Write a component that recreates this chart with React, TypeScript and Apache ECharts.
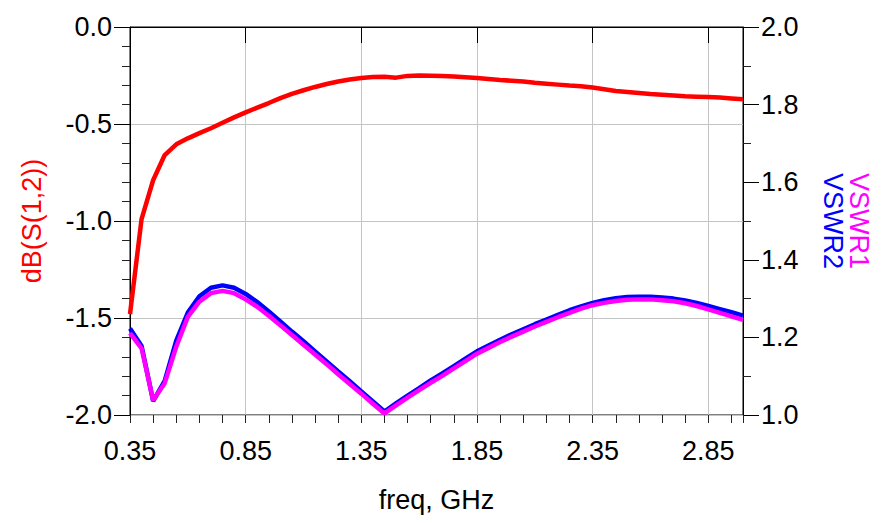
import React, { useEffect, useRef } from "react";
import * as echarts from "echarts";

const freq = [
  0.35, 0.4, 0.45, 0.5, 0.55, 0.6, 0.65, 0.7, 0.75, 0.8, 0.85, 0.9, 0.95, 1.0,
  1.05, 1.1, 1.15, 1.2, 1.25, 1.3, 1.35, 1.4, 1.45, 1.5, 1.55, 1.6, 1.65, 1.7,
  1.75, 1.8, 1.85, 1.9, 1.95, 2.0, 2.05, 2.1, 2.15, 2.2, 2.25, 2.3, 2.35, 2.4,
  2.45, 2.5, 2.55, 2.6, 2.65, 2.7, 2.75, 2.8, 2.85, 2.9, 2.95, 3.0,
];

const dbS12 = [
  -1.48, -0.99, -0.79, -0.66, -0.605, -0.574, -0.547, -0.522, -0.494, -0.466,
  -0.44, -0.416, -0.392, -0.367, -0.345, -0.326, -0.309, -0.294, -0.281, -0.271,
  -0.263, -0.258, -0.256, -0.261, -0.252, -0.25, -0.251, -0.252, -0.255, -0.259,
  -0.263, -0.268, -0.273, -0.277, -0.281, -0.287, -0.292, -0.297, -0.302, -0.305,
  -0.312, -0.321, -0.33, -0.335, -0.34, -0.345, -0.349, -0.353, -0.357, -0.359,
  -0.361, -0.364, -0.368, -0.373,
];

const vswr1 = [
  1.211, 1.172, 1.038, 1.082, 1.176, 1.253, 1.292, 1.314, 1.32, 1.314, 1.298,
  1.279, 1.256, 1.231, 1.206, 1.181, 1.156, 1.131, 1.105, 1.08, 1.055, 1.029,
  1.004, 1.025, 1.045, 1.064, 1.083, 1.101, 1.12, 1.139, 1.158, 1.173, 1.188,
  1.202, 1.215, 1.228, 1.24, 1.252, 1.263, 1.274, 1.283, 1.289, 1.294, 1.297,
  1.298, 1.298, 1.296, 1.293, 1.288, 1.281, 1.272, 1.263, 1.254, 1.245,
];

const vswr2 = [
  1.223, 1.178, 1.036, 1.088, 1.192, 1.264, 1.306, 1.328, 1.334, 1.328, 1.312,
  1.291, 1.267, 1.241, 1.215, 1.19, 1.164, 1.138, 1.112, 1.087, 1.061, 1.035,
  1.009, 1.03, 1.05, 1.069, 1.089, 1.107, 1.126, 1.145, 1.164, 1.179, 1.194,
  1.208, 1.221, 1.234, 1.246, 1.258, 1.27, 1.28, 1.289, 1.296, 1.301, 1.304,
  1.305, 1.305, 1.303, 1.3, 1.295, 1.289, 1.281, 1.273, 1.265, 1.256,
];

const FONT = "'Liberation Sans', Arial, Helvetica, sans-serif";
const FS = 27;

export default function App() {
  const ref = useRef<HTMLDivElement>(null);
  useEffect(() => {
    if (!ref.current) return;
    const chart = echarts.init(ref.current, undefined, { renderer: "svg" });
    const pair = (ys: number[]) => freq.map((f, i) => [f, ys[i]]);
    const black = "#000";
    const grey = "#c4c4c4";
    chart.setOption({
      animation: false,
      backgroundColor: "#fff",
      textStyle: { fontFamily: FONT },
      grid: {
        left: 130,
        right: 144,
        top: 27,
        bottom: 108,
        show: true,
        borderColor: black,
        borderWidth: 1,
        backgroundColor: "transparent",
        containLabel: false,
      },
      xAxis: [
        {
          type: "value",
          position: "bottom",
          min: 0.35,
          max: 3.0,
          interval: 0.5,
          name: "freq, GHz",
          nameLocation: "middle",
          nameGap: 71,
          nameTextStyle: { color: black, fontSize: FS, fontFamily: FONT },
          axisLine: { show: true, lineStyle: { color: black, width: 1 } },
          axisTick: { show: true, length: 16, lineStyle: { color: black, width: 1 } },
          axisLabel: {
            color: black,
            fontSize: FS,
            fontFamily: FONT,
            margin: 22,
            showMaxLabel: false,
            formatter: (v: number) => v.toFixed(2),
          },
          splitLine: { show: true, lineStyle: { color: grey, width: 1 } },
        },
        {
          type: "value",
          position: "bottom",
          min: 0.35,
          max: 3.0,
          interval: 0.1,
          axisLine: { show: false },
          axisTick: { show: true, length: 8, lineStyle: { color: "#222", width: 1 } },
          axisLabel: { show: false },
          splitLine: { show: false },
        },
      ],
      yAxis: [
        {
          type: "value",
          position: "left",
          min: -2,
          max: 0,
          interval: 0.5,
          name: "dB(S(1,2))",
          nameLocation: "middle",
          nameGap: 85,
          nameTextStyle: { color: "#ff0000", fontSize: FS, fontFamily: FONT },
          axisLine: { show: true, lineStyle: { color: black, width: 1 } },
          axisTick: { show: true, length: 16, lineStyle: { color: black, width: 1 } },
          minorTick: { show: true, splitNumber: 5, length: 8, lineStyle: { color: "#222", width: 1 } },
          axisLabel: {
            color: black,
            fontSize: FS,
            fontFamily: FONT,
            margin: 18,
            formatter: (v: number) => v.toFixed(1),
          },
          splitLine: { show: true, lineStyle: { color: grey, width: 1 } },
        },
        {
          type: "value",
          position: "right",
          min: 1,
          max: 2,
          interval: 0.2,
          name: "{a|VSWR1}\n{b|VSWR2}",
          nameLocation: "middle",
          nameGap: 77,
          nameRotate: -90,
          nameTextStyle: {
            fontSize: FS,
            fontFamily: FONT,
            lineHeight: 26,
            rich: {
              a: { color: "#ff00ff", fontSize: FS, fontFamily: FONT, lineHeight: 26 },
              b: { color: "#0000ff", fontSize: FS, fontFamily: FONT, lineHeight: 26 },
            },
          },
          axisLine: { show: true, lineStyle: { color: black, width: 1 } },
          axisTick: { show: true, length: 16, lineStyle: { color: black, width: 1 } },
          minorTick: { show: true, splitNumber: 2, length: 8, lineStyle: { color: "#222", width: 1 } },
          axisLabel: {
            color: black,
            fontSize: FS,
            fontFamily: FONT,
            margin: 18,
            formatter: (v: number) => v.toFixed(1),
          },
          splitLine: { show: false },
        },
      ],
      series: [
        {
          name: "dB(S(1,2))",
          type: "line",
          xAxisIndex: 0,
          yAxisIndex: 0,
          data: pair(dbS12),
          showSymbol: false,
          symbol: "none",
          lineStyle: { color: "#ff0000", width: 4.5 },
        },
        {
          name: "VSWR2",
          type: "line",
          xAxisIndex: 0,
          yAxisIndex: 1,
          data: pair(vswr2),
          showSymbol: false,
          symbol: "none",
          lineStyle: { color: "#0000ff", width: 4.5 },
        },
        {
          name: "VSWR1",
          type: "line",
          xAxisIndex: 0,
          yAxisIndex: 1,
          data: pair(vswr1),
          showSymbol: false,
          symbol: "none",
          lineStyle: { color: "#ff00ff", width: 4.5 },
        },
      ],
    });
    return () => chart.dispose();
  }, []);
  return (
    <div
      ref={ref}
      style={{ position: "fixed", left: 0, top: 0, width: 887, height: 523 }}
    />
  );
}
